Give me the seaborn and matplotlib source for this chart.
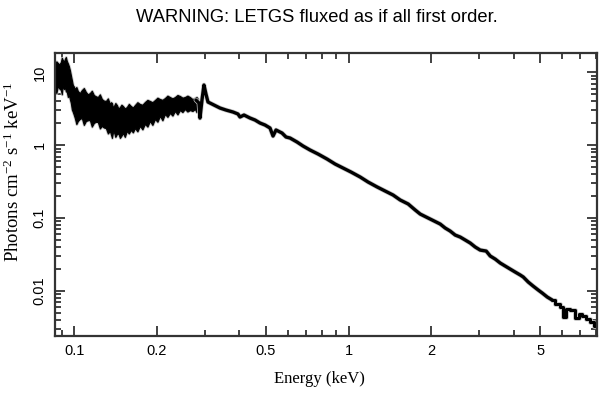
import numpy as np
import pandas as pd
import matplotlib
matplotlib.use("Agg")
import matplotlib.pyplot as plt
import matplotlib.ticker as mticker
import seaborn as sns

# noisy low-energy part: upper / lower edge of the black band
band_energy = [0.08489, 0.0860, 0.08707, 0.0882, 0.08929, 0.0900, 0.09078, 0.0916,
               0.09232, 0.0931, 0.09388, 0.0947, 0.09548, 0.0963, 0.09710, 0.0979,
               0.09874, 0.0996, 0.1004, 0.1017, 0.1030, 0.1047, 0.1065, 0.1083,
               0.1102, 0.1120, 0.1139, 0.1158, 0.1178, 0.1198, 0.1218, 0.1239,
               0.1260, 0.1281, 0.1303, 0.1325, 0.1348, 0.1360, 0.1371, 0.1383,
               0.1394, 0.1411, 0.1429, 0.1447, 0.1466, 0.1485, 0.1503, 0.1528,
               0.1554, 0.1580, 0.1607, 0.1635, 0.1663, 0.1698, 0.1734, 0.1771,
               0.1808, 0.1847, 0.1886, 0.1926, 0.1967, 0.2009, 0.2051, 0.2095,
               0.2139, 0.2185, 0.2231, 0.2279, 0.2327, 0.2377, 0.2427, 0.2478,
               0.2530, 0.2584, 0.2639, 0.2696, 0.2753, 0.2788, 0.2823]
band_upper = [12.64, 14.2, 13.46, 12.9, 13.90, 15.9, 14.80, 14.0,
              15.28, 16.3, 14.34, 13.3, 12.24, 10.8, 9.21, 7.9,
              6.71, 6.4, 5.92, 6.3, 5.55, 5.2, 5.73, 6.1,
              5.38, 5.0, 5.21, 5.6, 4.89, 4.7, 4.59, 5.0,
              4.31, 4.1, 4.05, 4.4, 3.68, 3.9, 3.80, 3.3,
              3.46, 3.8, 3.57, 3.2, 3.35, 3.6, 3.46, 3.2,
              3.35, 3.7, 3.46, 3.3, 3.57, 3.9, 3.68, 3.6,
              3.92, 4.2, 4.05, 3.9, 4.18, 4.5, 4.31, 4.2,
              4.45, 4.8, 4.59, 4.4, 4.59, 4.9, 4.74, 4.5,
              4.59, 4.8, 4.59, 4.3, 4.45, 4.6, 4.31]
band_lower = [6.11, 5.2, 6.51, 6.0, 5.73, 5.0, 6.71, 5.9,
              6.30, 5.5, 5.38, 4.6, 4.89, 4.3, 3.80, 3.1,
              2.86, 2.6, 2.36, 1.95, 2.15, 2.3, 2.36, 1.9,
              2.15, 2.2, 2.22, 1.8, 2.02, 2.1, 2.08, 1.7,
              1.84, 1.75, 1.72, 1.45, 1.57, 1.40, 1.26, 1.50,
              1.52, 1.30, 1.42, 1.45, 1.26, 1.35, 1.47, 1.30,
              1.57, 1.45, 1.62, 1.50, 1.72, 1.55, 1.84, 1.65,
              1.96, 1.80, 2.15, 1.90, 2.29, 2.10, 2.52, 2.20,
              2.68, 2.45, 2.77, 2.55, 2.95, 2.65, 3.04, 2.85,
              3.14, 2.90, 3.04, 2.95, 3.14, 2.85, 2.95]

# binned spectrum above ~0.28 keV
line_energy = [0.2775, 0.2847, 0.2871, 0.2920, 0.2969, 0.3019, 0.3071, 0.3229,
               0.3396, 0.3571, 0.3789, 0.3951, 0.4018, 0.4155, 0.4370, 0.4558,
               0.4753, 0.4958, 0.5170, 0.5302, 0.5437, 0.5718, 0.5914, 0.6116,
               0.6487, 0.6823, 0.7237, 0.7738, 0.8346, 0.8927, 0.9548, 1.021,
               1.102, 1.178, 1.271, 1.359, 1.453, 1.542, 1.649, 1.749,
               1.824, 1.918, 2.017, 2.158, 2.250, 2.346, 2.447, 2.553,
               2.662, 2.776, 2.895, 3.019, 3.175, 3.284, 3.425, 3.572,
               3.725, 3.885, 4.052, 4.226, 4.334, 4.520, 4.713, 4.916,
               5.084, 5.302, 5.530, 5.768, 6.015, 6.117, 6.273, 6.543,
               6.823, 6.998, 7.237, 7.484, 7.740, 7.937]
line_flux = [4.18, 3.80, 2.36, 4.18, 6.71, 5.05, 3.92, 3.566,
             3.243, 3.044, 2.858, 2.683, 2.440, 2.598, 2.363, 2.219,
             2.018, 1.894, 1.723, 1.338, 1.618, 1.471, 1.296, 1.256,
             1.106, 0.975, 0.859, 0.757, 0.646, 0.552, 0.486, 0.428,
             0.366, 0.312, 0.267, 0.235, 0.207, 0.177, 0.156, 0.129,
             0.1135, 0.1032, 0.0939, 0.0827, 0.0729, 0.0663, 0.0584, 0.0548,
             0.0499, 0.0454, 0.0400, 0.0363, 0.0352, 0.0301, 0.0273, 0.0241,
             0.0219, 0.0199, 0.0181, 0.0165, 0.0155, 0.0132, 0.0116, 0.01025,
             0.00933, 0.00822, 0.00747, 0.00659, 0.00599, 0.00437, 0.00562, 0.00545,
             0.00423, 0.00480, 0.00451, 0.00410, 0.00373, 0.00329]

x_ticks = [0.1, 0.2, 0.5, 1, 2, 5]
x_tick_labels = ["0.1", "0.2", "0.5", "1", "2", "5"]
y_ticks = [0.01, 0.1, 1, 10]
y_tick_labels = ["0.01", "0.1", "1", "10"]

sns.set_theme(style="ticks")
plt.rcParams['font.family'] = ['Liberation Sans', 'DejaVu Sans']
plt.rcParams['mathtext.fontset'] = 'custom'
plt.rcParams['mathtext.rm'] = 'Liberation Serif'
plt.rcParams['mathtext.it'] = 'Liberation Serif:italic'
plt.rcParams['mathtext.default'] = 'rm'

df = pd.DataFrame({"energy": line_energy, "flux": line_flux})
main = df[df["energy"] <= 5.6]
tail = df[df["energy"] >= 5.5]

fig = plt.figure(figsize=(6.09, 3.99), dpi=100)
ax = fig.add_axes([0.0903, 0.1586, 0.8900, 0.7078])

# grey error halo, then the black band and spectrum
ax.fill_between(band_energy, band_lower, band_upper, color="#c8c8c8",
                edgecolor="#c8c8c8", linewidth=2)
sns.lineplot(data=main, x="energy", y="flux", ax=ax, color="#c8c8c8",
             linewidth=3.4, sort=False)
sns.lineplot(data=tail, x="energy", y="flux", ax=ax, color="#c8c8c8",
             linewidth=3.4, drawstyle="steps-mid", sort=False)
ax.fill_between(band_energy, band_lower, band_upper, color="black",
                edgecolor="black", linewidth=0.8)
sns.lineplot(data=main, x="energy", y="flux", ax=ax, color="black",
             linewidth=2.4, sort=False)
sns.lineplot(data=tail, x="energy", y="flux", ax=ax, color="black",
             linewidth=2.2, drawstyle="steps-mid", sort=False)

ax.set_xscale("log")
ax.set_yscale("log")
ax.set_xlim(0.085, 8.05)
ax.set_ylim(0.00242, 18.3)

ax.xaxis.set_major_locator(mticker.FixedLocator(x_ticks))
ax.xaxis.set_major_formatter(mticker.FixedFormatter(x_tick_labels))
ax.xaxis.set_minor_locator(mticker.LogLocator(base=10, subs=np.arange(2, 10), numticks=20))
ax.xaxis.set_minor_formatter(mticker.NullFormatter())
ax.yaxis.set_major_locator(mticker.FixedLocator(y_ticks))
ax.yaxis.set_major_formatter(mticker.FixedFormatter(y_tick_labels))
ax.yaxis.set_minor_locator(mticker.LogLocator(base=10, subs=np.arange(2, 10), numticks=20))
ax.yaxis.set_minor_formatter(mticker.NullFormatter())

ax.tick_params(which="both", direction="in", top=True, right=True,
               color="#333333", width=1.3, labelcolor="black")
ax.tick_params(which="major", length=7, labelsize=10.5, pad=6)
ax.tick_params(which="minor", length=4)
for lab in ax.get_yticklabels():
    lab.set_rotation(90)
    lab.set_va("center")

for s in ax.spines.values():
    s.set_linewidth(1.6)
    s.set_color("#333333")

ax.set_xlabel("Energy (keV)", family=["Liberation Serif"], fontsize=12, color="black")
ax.xaxis.set_label_coords(0.487, -0.124)
ax.set_ylabel("Photons cm$^{-2}$ s$^{-1}$ keV$^{-1}$", family=["Liberation Serif"],
              fontsize=13.5, color="black")
ax.yaxis.set_label_coords(-0.059, 0.58)

fig.text(0.52, 1 - 18 / 399, "WARNING: LETGS fluxed as if all first order.",
         ha="center", va="center", fontsize=13.2, color="black")

fig.savefig("out.png", dpi=100)
